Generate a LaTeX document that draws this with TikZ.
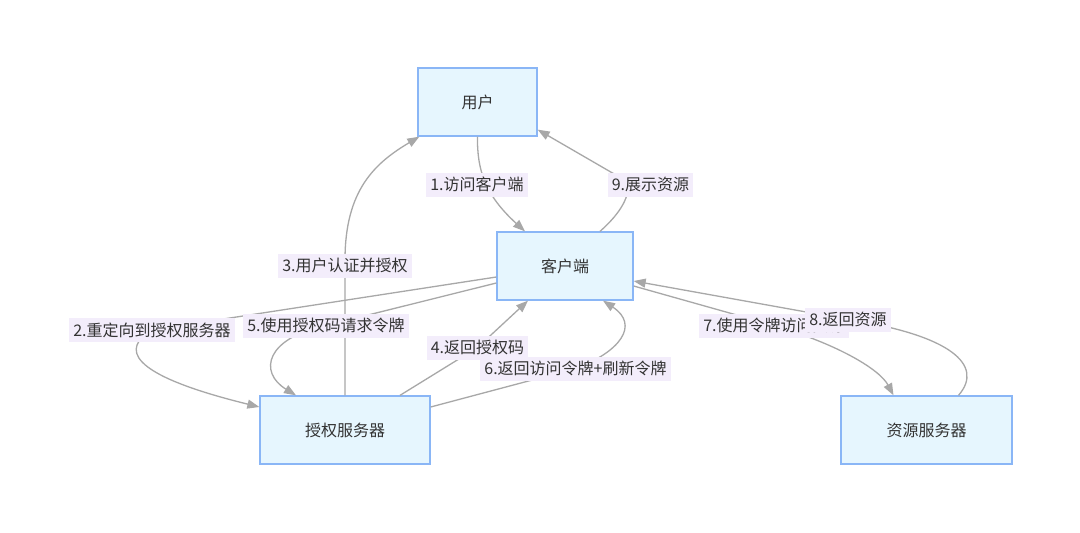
\documentclass[tikz,border=0pt]{standalone}
\usepackage{fontspec}
\setmainfont{Noto Sans CJK SC}
\usetikzlibrary{arrows.meta}
\definecolor{nodefill}{HTML}{E6F6FE}
\definecolor{nodeborder}{HTML}{8AB6F6}
\definecolor{edgegray}{HTML}{A8A8A8}
\definecolor{lblfill}{HTML}{F3EDFB}
\definecolor{txt}{HTML}{333333}
\begin{document}
\begin{tikzpicture}[x=1pt,y=-1pt,
  box/.style={draw=nodeborder, line width=1.3pt, fill=nodefill, minimum height=68pt,
    inner sep=0pt, text=txt, font=\fontsize{16}{19}\selectfont},
  lbl/.style={fill=lblfill, text=txt, inner xsep=4pt, inner ysep=0pt, minimum height=24pt,
    font=\fontsize{16}{19}\selectfont},
  conn/.style={draw=edgegray, line width=1.3pt, -{Triangle[length=12pt,width=9pt]}}
]
\useasboundingbox (0,0) rectangle (1080,533);
\fill[white] (0,0) rectangle (1080,533);

% nodes
\node[box, minimum width=119pt] (user) at (477.5,102) {用户};
\node[box, minimum width=136pt] (client) at (565,266) {客户端};
\node[box, minimum width=170pt] (auth) at (345,430) {授权服务器};
\node[box, minimum width=171pt] (res) at (926.5,430) {资源服务器};

% label positions
\coordinate (c1) at (477,184.5);
\coordinate (c9) at (650.5,184.5);
\coordinate (c3) at (345,265.5);
\coordinate (c2) at (152,330);
\coordinate (c5) at (326,325.5);
\coordinate (c4) at (477.5,347.5);
\coordinate (c6) at (575.5,368.5);
\coordinate (c7) at (774,325.5);
\coordinate (c8) at (848,319.5);

% connectors
\draw[conn] (user.south) .. controls (477,170) and (485,195) .. ([xshift=-40pt]client.north);
\draw[conn] ([xshift=35pt]client.north) .. controls (622,212) and (630,195) .. (628,182) -- ([yshift=7pt]user.south east);
\draw[conn] (auth.north) -- (c3) -- (345,260) .. controls (345,190) and (375,163) .. ([xshift=2pt]user.south west);
\draw[conn] ([yshift=-11pt]client.west) -- (c2) .. controls (122,348) and (125,374) .. ([yshift=23pt]auth.west);
\draw[conn] ([yshift=-17pt]client.west) -- (c5) .. controls (266,338) and (258,372) .. ([xshift=-49pt]auth.north);
\draw[conn] ([xshift=55pt]auth.north) -- (c4) -- ([xshift=-37pt]client.south);
\draw[conn] ([yshift=23pt]auth.east) -- (c6) .. controls (620,352) and (640,325) .. ([xshift=38pt]client.south);
\draw[conn] ([yshift=-20pt]client.east) -- (c7) .. controls (840,345) and (880,370) .. ([xshift=-33pt]res.north);
\draw[conn] ([xshift=32pt]res.north) .. controls (985,365) and (950,335) .. (c8) -- ([yshift=-15pt]client.east);

% labels
\node[lbl] (l1) at (c1) {1.访问客户端};
\node[lbl] (l9) at (c9) {9.展示资源};
\node[lbl] (l3) at (c3) {3.用户认证并授权};
\node[lbl] (l2) at (c2) {2.重定向到授权服务器};
\node[lbl] (l5) at (c5) {5.使用授权码请求令牌};
\node[lbl] (l4) at (c4) {4.返回授权码};
\node[lbl] (l6) at (c6) {6.返回访问令牌+刷新令牌};
\node[lbl] (l7) at (c7) {7.使用令牌访问资源};
\node[lbl] (l8) at (c8) {8.返回资源};
\end{tikzpicture}
\end{document}
